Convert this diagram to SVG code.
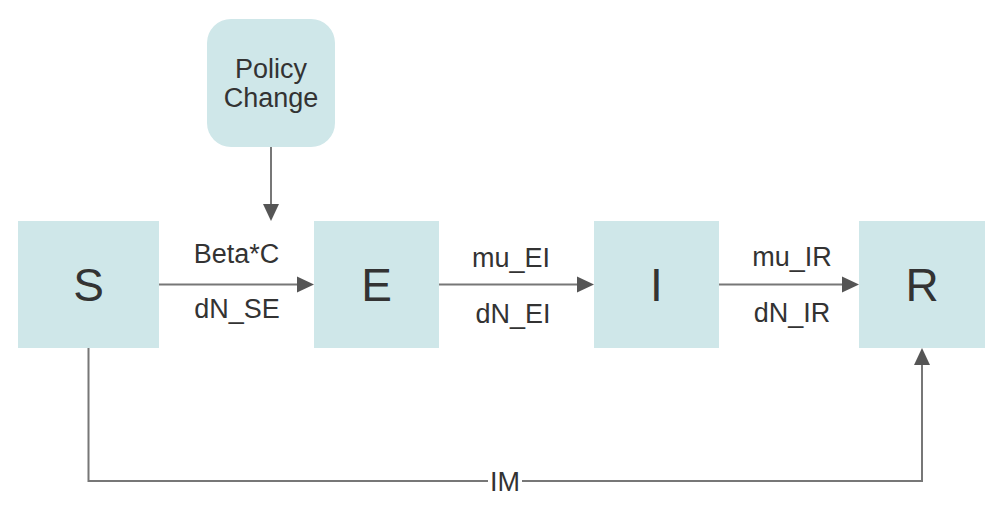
<svg xmlns="http://www.w3.org/2000/svg" width="1008" height="512" viewBox="0 0 1008 512">
<style>
.box{fill:#cfe7e9;}
.lbl{font-family:"Liberation Sans",Arial,sans-serif;fill:#333;text-anchor:middle;}
.big{font-size:46px;}
.sm{font-size:27px;}
.ln{fill:none;stroke:#777;stroke-width:2;}
.ah{fill:#555;}
</style>
<rect width="1008" height="512" fill="#fff"/>
<g id="connectors">
<line class="ln" x1="159" y1="284.5" x2="298" y2="284.5"/>
<polygon class="ah" points="314,284.5 297,276.5 297,292.5"/>
<line class="ln" x1="439" y1="284.5" x2="578" y2="284.5"/>
<polygon class="ah" points="594,284.5 577,276.5 577,292.5"/>
<line class="ln" x1="719" y1="284.5" x2="843" y2="284.5"/>
<polygon class="ah" points="859,284.5 842,276.5 842,292.5"/>
<line class="ln" x1="271" y1="147" x2="271" y2="205"/>
<polygon class="ah" points="271,221 263,204 279,204"/>
<polyline class="ln" points="88.5,348 88.5,481 922,481 922,364"/>
<polygon class="ah" points="922,348 914,365 930,365"/>
<rect x="488" y="468" width="34" height="26" fill="#fff"/>
<text class="lbl sm" x="505" y="491">IM</text>
<text class="lbl sm" x="236.5" y="263">Beta*C</text>
<text class="lbl sm" x="237" y="318">dN_SE</text>
<text class="lbl sm" x="511" y="267">mu_EI</text>
<text class="lbl sm" x="513" y="323">dN_EI</text>
<text class="lbl sm" x="792" y="266">mu_IR</text>
<text class="lbl sm" x="792" y="322">dN_IR</text>
</g>
<g id="node-S">
<rect class="box" x="18" y="221" width="141" height="127"/>
<text class="lbl big" x="88.5" y="301">S</text>
</g>
<g id="node-E">
<rect class="box" x="314" y="221" width="125" height="127"/>
<text class="lbl big" x="376.5" y="301">E</text>
</g>
<g id="node-I">
<rect class="box" x="594" y="221" width="125" height="127"/>
<text class="lbl big" x="656.5" y="301">I</text>
</g>
<g id="node-R">
<rect class="box" x="859" y="221" width="126" height="127"/>
<text class="lbl big" x="922" y="301">R</text>
</g>
<g id="node-policy">
<rect class="box" x="207" y="19" width="128" height="128" rx="24" ry="24"/>
<text class="lbl sm" x="271" y="78">Policy</text>
<text class="lbl sm" x="271" y="107">Change</text>
</g>
</svg>
